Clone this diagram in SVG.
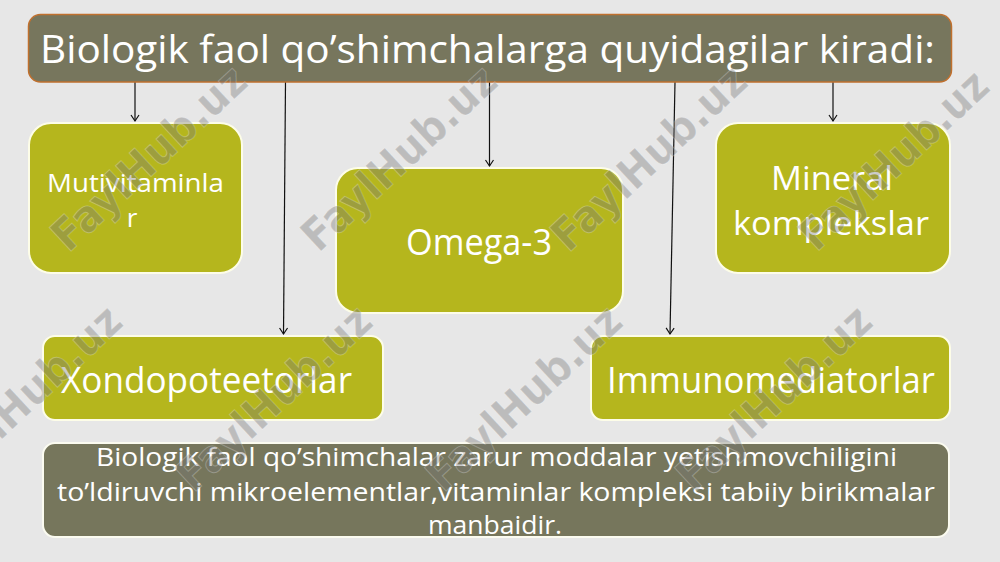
<svg xmlns="http://www.w3.org/2000/svg" width="1000" height="562" viewBox="0 0 1000 562">
<style>
.bg{fill:#e7e7e7}
.title{fill:#77765d;stroke:#c0702e;stroke-width:1.5}
.box{fill:#b5b61d;stroke:#fdfde8;stroke-width:2}
.note{fill:#76765c;stroke:#fbfbf0;stroke-width:2}
.t{font-family:"Open Sans","DejaVu Sans",sans-serif;fill:#ffffff}
.conn{stroke:#111;stroke-width:1.2;fill:none}
.wm{font-family:"DejaVu Sans","Liberation Sans",sans-serif;font-weight:bold;font-size:44px;fill:#767676;fill-opacity:0.4;stroke:#ffffff;stroke-opacity:0.25;stroke-width:1;text-anchor:middle}
</style>
<defs>
<marker id="arr" markerUnits="userSpaceOnUse" markerWidth="12" markerHeight="12" refX="0" refY="0" viewBox="-8 -6 10 12" orient="auto">
<path d="M-6,-4 L0,0 L-6,4" fill="none" stroke="#111" stroke-width="1.2"/>
</marker>
</defs>
<rect class="bg" x="0" y="0" width="1000" height="562"/>

<g id="connectors">
<line class="conn" x1="135" y1="82" x2="135" y2="121" marker-end="url(#arr)"/>
<line class="conn" x1="285.5" y1="82" x2="283.5" y2="334" marker-end="url(#arr)"/>
<line class="conn" x1="489.5" y1="82" x2="489.5" y2="166" marker-end="url(#arr)"/>
<line class="conn" x1="675" y1="82" x2="670" y2="334" marker-end="url(#arr)"/>
<line class="conn" x1="833" y1="82" x2="833" y2="121" marker-end="url(#arr)"/>
</g>

<g id="title">
<rect class="title" x="28.5" y="14.5" width="923" height="67.5" rx="12"/>
<text class="t" x="40" y="63" font-size="39" textLength="895" lengthAdjust="spacingAndGlyphs">Biologik faol qo’shimchalarga quyidagilar kiradi:</text>
</g>

<g id="multivitamin">
<rect class="box" x="29" y="123" width="213" height="150" rx="22"/>
<text class="t" x="47" y="192" font-size="26" textLength="177" lengthAdjust="spacingAndGlyphs">Mutivitaminla</text>
<text class="t" x="132" y="227" font-size="26" text-anchor="middle">r</text>
</g>

<g id="omega3">
<rect class="box" x="336" y="168" width="287" height="145" rx="22"/>
<text class="t" x="406" y="255" font-size="37" textLength="146" lengthAdjust="spacingAndGlyphs">Omega-3</text>
</g>

<g id="mineral">
<rect class="box" x="716" y="123" width="234" height="150" rx="22"/>
<text class="t" x="771" y="190" font-size="33" textLength="122" lengthAdjust="spacingAndGlyphs">Mineral</text>
<text class="t" x="733" y="235" font-size="33" textLength="196" lengthAdjust="spacingAndGlyphs">komplekslar</text>
</g>

<g id="xondo">
<rect class="box" x="43" y="336" width="340" height="84" rx="12"/>
<text class="t" x="61" y="393" font-size="36" textLength="291" lengthAdjust="spacingAndGlyphs">Xondopoteetorlar</text>
</g>

<g id="immuno">
<rect class="box" x="591" y="336" width="359" height="84" rx="12"/>
<text class="t" x="607" y="393" font-size="36" textLength="328" lengthAdjust="spacingAndGlyphs">Immunomediatorlar</text>
</g>

<g id="description">
<rect class="note" x="43" y="443" width="906" height="94" rx="12"/>
<text class="t" x="96" y="466" font-size="26" textLength="801" lengthAdjust="spacingAndGlyphs">Biologik faol qo’shimchalar zarur moddalar yetishmovchiligini</text>
<text class="t" x="57" y="501" font-size="26" textLength="878" lengthAdjust="spacingAndGlyphs">to’ldiruvchi mikroelementlar,vitaminlar kompleksi tabiiy birikmalar</text>
<text class="t" x="428" y="534" font-size="26" textLength="134" lengthAdjust="spacingAndGlyphs">manbaidir.</text>
</g>

<g id="watermark">
<text class="wm" transform="translate(149,158) rotate(-43)" x="0" y="15" textLength="248" lengthAdjust="spacingAndGlyphs">FaylHub.uz</text>
<text class="wm" transform="translate(399,158) rotate(-43)" x="0" y="15" textLength="248" lengthAdjust="spacingAndGlyphs">FaylHub.uz</text>
<text class="wm" transform="translate(649,158) rotate(-43)" x="0" y="15" textLength="248" lengthAdjust="spacingAndGlyphs">FaylHub.uz</text>
<text class="wm" transform="translate(894,160) rotate(-43)" x="0" y="15" textLength="240" lengthAdjust="spacingAndGlyphs">FaylHub.uz</text>
<text class="wm" transform="translate(24,398) rotate(-43)" x="0" y="15" textLength="248" lengthAdjust="spacingAndGlyphs">FaylHub.uz</text>
<text class="wm" transform="translate(274,398) rotate(-43)" x="0" y="15" textLength="248" lengthAdjust="spacingAndGlyphs">FaylHub.uz</text>
<text class="wm" transform="translate(524,398) rotate(-43)" x="0" y="15" textLength="248" lengthAdjust="spacingAndGlyphs">FaylHub.uz</text>
<text class="wm" transform="translate(774,398) rotate(-43)" x="0" y="15" textLength="248" lengthAdjust="spacingAndGlyphs">FaylHub.uz</text>
</g>
</svg>
